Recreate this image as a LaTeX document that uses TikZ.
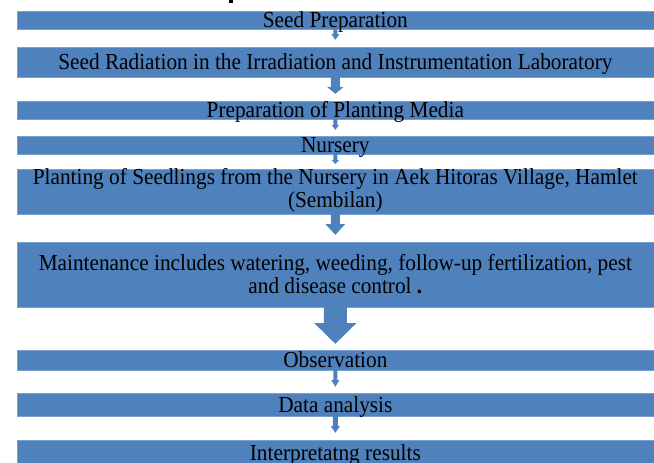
\documentclass[tikz,border=0pt]{standalone}
\usepackage{fontspec}
\setmainfont{Liberation Serif}[FakeStretch=0.93]
\usetikzlibrary{calc}
\definecolor{boxc}{HTML}{4F81BD}
\definecolor{arwc}{HTML}{4F81BD}
\tikzset{
  stepbox/.style={fill=boxc, draw=boxc!75!white, line width=0.4pt,
    minimum width=637.3pt, minimum height=#1, inner sep=0pt,
    text height=15pt, text depth=0pt, align=center,
    font=\fontsize{22.9}{23.6}\selectfont},
  arw/.style={fill=arwc}
}
% from, to, shaft length, gap before next box, shaft width, head width
\newcommand\blockarrow[6]{%
  \fill[arw] let \p1=(#1.south), \p2=(#2.north) in
    (\x1-#5/2*1pt,\y1) -- (\x1-#5/2*1pt,\y1-#3*1pt) -- (\x1-#6/2*1pt,\y1-#3*1pt)
    -- (\x1,\y2+#4*1pt) -- (\x1+#6/2*1pt,\y1-#3*1pt) -- (\x1+#5/2*1pt,\y1-#3*1pt)
    -- (\x1+#5/2*1pt,\y1) -- cycle;}
\begin{document}
\begin{tikzpicture}[x=1pt,y=-1pt]
\useasboundingbox (0,0) rectangle (654,463);
\fill[black] (229,0) rectangle (233,2.5);
\node[stepbox=18pt] (b1) at (335.35,20) {Seed Preparation};
\node[stepbox=30pt] (b2) at (335.35,62) {Seed Radiation in the Irradiation and Instrumentation Laboratory};
\node[stepbox=18pt] (b3) at (335.35,110) {Preparation of Planting Media};
\node[stepbox=18pt] (b4) at (335.35,145) {Nursery};
\node[stepbox=43pt, text height=38.6pt, text depth=6pt] (b5) at (335.35,191.5) {Planting of Seedlings from the Nursery in Aek Hitoras Village, Hamlet\\(Sembilan)};
\node[stepbox=65pt, text height=38.6pt, text depth=0pt] (b6) at (335.35,274.5) {Maintenance includes watering, weeding, follow-up fertilization, pest\\and disease control \textbf{.}};
\node[stepbox=20pt] (b7) at (335.35,360) {Observation};
\node[stepbox=23pt] (b8) at (335.35,404.5) {Data analysis};
\node[stepbox=25pt] (b9) at (335.35,452.5) {Interpretatng results};
\blockarrow{b1}{b2}{5}{7}{4}{8}
\blockarrow{b2}{b3}{10}{7}{9}{16}
\blockarrow{b3}{b4}{6}{6}{4}{7}
\blockarrow{b4}{b5}{6}{5}{4}{7}
\blockarrow{b5}{b6}{10}{7}{9}{20}
\blockarrow{b6}{b7}{16}{6}{23}{42}
\blockarrow{b7}{b8}{10}{6}{4}{8}
\blockarrow{b8}{b9}{10}{7}{5}{9}
\end{tikzpicture}
\end{document}
